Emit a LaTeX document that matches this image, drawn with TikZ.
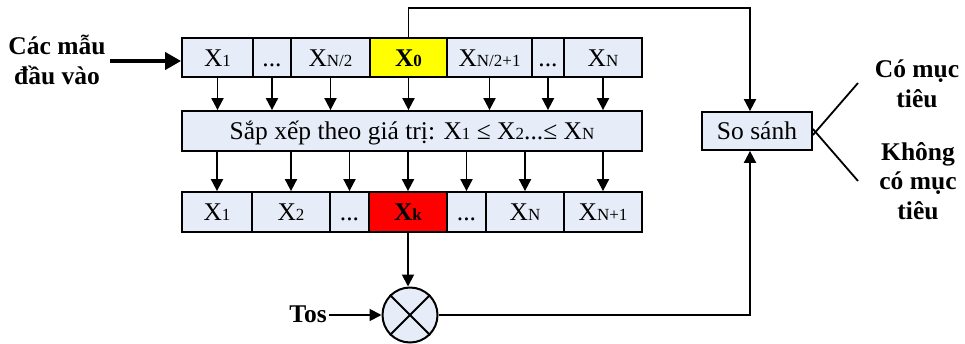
\documentclass[tikz,border=0pt]{standalone}
\usepackage{fontspec}
\setmainfont{Liberation Serif}
\usetikzlibrary{arrows.meta}
\definecolor{cellblue}{RGB}{231,237,248}
\definecolor{cellyellow}{RGB}{255,255,0}
\definecolor{cellred}{RGB}{255,0,0}
\newcommand{\mysub}[1]{{\fontsize{17}{17}\selectfont #1}}
\newcommand{\mydots}{...}
\begin{document}
\begin{tikzpicture}[x=1pt,y=-1pt,
  cell/.style={draw,line width=1.8pt,fill=cellblue,inner sep=0pt,
    text height=17pt,text depth=0pt,
    font=\fontsize{25.5}{25.5}\selectfont},
  arr/.style={line width=1.9pt,-{Triangle[length=12pt,width=12pt]}},
  plain/.style={line width=1.8pt},
  lbl/.style={align=center,inner sep=0pt,font=\fontsize{25.5}{29.5}\selectfont\bfseries}]
\useasboundingbox (0,0) rectangle (965,343);
% top row
\foreach \n/\a/\b/\t/\f in {t1/182/253/X\mysub{1}/cellblue, t2/253/291/\mydots/cellblue,
  t3/291/370/X\mysub{N/2}/cellblue, t4/370/447/\textbf{X\mysub{0}}/cellyellow,
  t5/447/532/X\mysub{N/2+1}/cellblue, t6/532/564/\mydots/cellblue, t7/564/642/X\mysub{N}/cellblue}
  \node[cell,fill=\f,minimum width={\b-\a},minimum height=39pt] (\n) at ({(\a+\b)/2},57.5) {\t};
% sort box
\node[cell,minimum width=460pt,minimum height=40pt] (sort) at (412,131)
  {Sắp xếp theo giá trị: X\mysub{1} ≤ X\mysub{2}...≤ X\mysub{N}};
% bottom row
\foreach \n/\a/\b/\t/\f in {b1/182/252/X\mysub{1}/cellblue, b2/252/330/X\mysub{2}/cellblue,
  b3/330/369/\mydots/cellblue, b4/369/447/\textbf{X\mysub{k}}/cellred,
  b5/447/486/\mydots/cellblue, b6/486/564/X\mysub{N}/cellblue, b7/564/642/X\mysub{N+1}/cellblue}
  \node[cell,fill=\f,minimum width={\b-\a},minimum height=40pt] (\n) at ({(\a+\b)/2},212) {\t};
% compare box
\node[cell,minimum width=110pt,minimum height=38pt] (so) at (757,131) {So sánh};
% multiplier
\node[draw,circle,line width=2pt,fill=cellblue,minimum size=55pt,inner sep=0pt] (mul) at (410,315) {};
\draw[line width=1.8pt] (mul.north west) -- (mul.south east) (mul.north east) -- (mul.south west);
% labels
\node[lbl] (inp) at (57,60) {Các mẫu\\đầu vào};
\node[lbl] (tos) [anchor=east] at (327,314) {Tos};
\node[lbl] (yes) at (917,84) {Có mục\\tiêu};
\node[lbl] (no) at (918,181) {Không\\có mục\\tiêu};
\coordinate (yesend) at (858,83);
\coordinate (noend) at (858,181);
% arrows
\draw[line width=3.8pt,-{Triangle[length=16pt,width=17pt]}] (inp.east |- 0,61) ++(4,0) -- (t1.west |- 0,61);
\foreach \n in {t1,t2,t3,t4,t5,t6,t7} \draw[arr] (\n.south) -- (\n.south |- sort.north);
\foreach \n in {b1,b2,b3,b4,b5,b6,b7} \draw[arr] (\n.north |- sort.south) -- (\n.north);
\draw[arr] (b4.south) -- (b4.south |- mul.north);
\draw[arr] (tos.east |- mul.west) ++(2,0) -- (mul.west);
\draw[plain,-{Triangle[length=12pt,width=12pt]},line width=1.9pt] (t4.north) -- (t4.north |- 0,8) -| ([xshift=-7pt]so.north);
\draw[plain,-{Triangle[length=12pt,width=12pt]},line width=1.9pt] (mul.east) -| ([xshift=-7pt]so.south);
\draw[plain] ([yshift=-4pt]so.east) -- (yesend);
\draw[plain] ([yshift=2pt]so.east) -- (noend);
\end{tikzpicture}
\end{document}
